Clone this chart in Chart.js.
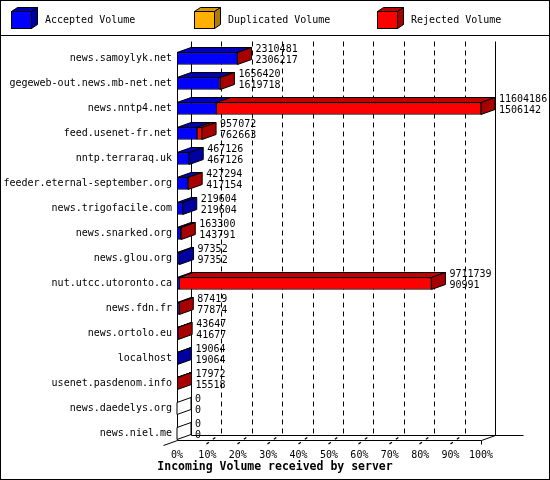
<!DOCTYPE html>
<html>
<head>
<meta charset="utf-8">
<title>Incoming Volume received by server</title>
<script src="https://cdn.jsdelivr.net/npm/chart.js@4.4.1/dist/chart.umd.min.js"></script>
<style>
  html, body { margin: 0; padding: 0; background: #fff; }
  canvas { display: block; }
</style>
</head>
<body>
<canvas id="volumeChart" width="550" height="480"></canvas>
<script>
// --- Daten ---
const servers = [
  'news.samoylyk.net', 'gegeweb-out.news.mb-net.net', 'news.nntp4.net', 'feed.usenet-fr.net',
  'nntp.terraraq.uk', 'feeder.eternal-september.org', 'news.trigofacile.com', 'news.snarked.org',
  'news.glou.org', 'nut.utcc.utoronto.ca', 'news.fdn.fr', 'news.ortolo.eu',
  'localhost', 'usenet.pasdenom.info', 'news.daedelys.org', 'news.niel.me'
];
const totalVolume = [2310481, 1656420, 11604186, 957072, 467126, 427294, 219604, 163300,
                     97352, 9711739, 87419, 43647, 19064, 17972, 0, 0];
const acceptedVolume = [2306217, 1619718, 1506142, 762663, 467126, 417154, 219604, 143791,
                        97352, 90991, 77874, 41677, 19064, 15518, 0, 0];
const duplicatedVolume = [0, 0, 0, 0, 0, 0, 0, 0, 0, 0, 0, 0, 0, 0, 0, 0];
// abgelehnt = Gesamt - angenommen
const rejectedVolume = totalVolume.map((t, i) => t - acceptedVolume[i]);
const percentTicks = [0, 10, 20, 30, 40, 50, 60, 70, 80, 90, 100];
const maxVolume = Math.max(...totalVolume);
const axisTitle = 'Incoming Volume received by server';

const MONO = "'DejaVu Sans Mono', monospace";
const DX = 14, DY = 5; // 3D-Tiefe

function line(ctx, x1, y1, x2, y2) {
    ctx.beginPath();
    ctx.moveTo(x1, y1);
    ctx.lineTo(x2, y2);
    ctx.stroke();
}

function poly(ctx, pts, fill) {
    ctx.beginPath();
    ctx.moveTo(pts[0][0], pts[0][1]);
    for (let k = 1; k < pts.length; k++) ctx.lineTo(pts[k][0], pts[k][1]);
    ctx.closePath();
    ctx.fillStyle = fill;
    ctx.fill();
    ctx.stroke();
}

// --- 3D Plugin: Rückwand, Boden, Seitenflächen, Werte, Legende ---
const bar3d = {
    id: 'bar3d',
    beforeDraw(chart) {
        const ctx = chart.ctx;
        ctx.save();
        ctx.fillStyle = '#fff';
        ctx.fillRect(0, 0, chart.width, chart.height);
        ctx.restore();
    },
    beforeDatasetsDraw(chart) {
        const { ctx, scales: { x, y } } = chart;
        const xAt = v => x.getPixelForValue(v);
        const firstC = y.getPixelForValue(0);
        const lastC = y.getPixelForValue(servers.length - 1);
        const wallTop = Math.round(firstC - 17.5) + 0.5;
        const floorFront = Math.round(lastC + 6) + 0.5;
        const floorBack = floorFront - DY;
        const x0 = Math.round(xAt(0)) + 0.5;
        const x100 = Math.round(xAt(maxVolume)) + 0.5;

        ctx.save();
        ctx.strokeStyle = '#000';
        ctx.lineWidth = 1;

        // Rückwand-Gitter
        percentTicks.forEach(p => {
            const xb = Math.round(xAt(p / 100 * maxVolume) + DX) + 0.5;
            ctx.setLineDash(p === 0 || p === 100 ? [] : [5, 4]);
            line(ctx, xb, wallTop, xb, floorBack);
        });
        ctx.setLineDash([]);

        // Boden
        line(ctx, x0 + DX, floorBack, x100 + DX + 28, floorBack);
        line(ctx, x0, floorFront, x100, floorFront);
        line(ctx, x100, floorFront, x100 + DX, floorBack);
        line(ctx, x0, floorFront, x0 - DX, floorFront + DY);
        // vordere Achse
        line(ctx, x0, Math.round(firstC - 6) + 0.5, x0, floorFront);

        // Bodenmarken
        percentTicks.forEach(p => {
            const xf = Math.round(xAt(p / 100 * maxVolume)) + 0.5;
            if (p === 0) return;
            if (p === 100) {
                line(ctx, xf, floorFront, xf, floorFront + 4);
                return;
            }
            ctx.setLineDash([3, 5]);
            ctx.lineWidth = 1.3;
            line(ctx, xf - 1, floorFront + 3.5, xf + 9, floorBack + 1);
            ctx.lineWidth = 1;
            ctx.setLineDash([]);
        });
        ctx.restore();
    },
    afterDatasetsDraw(chart) {
        const { ctx, scales: { x } } = chart;
        const metas = chart.data.datasets.map((d, k) => chart.getDatasetMeta(k));
        ctx.save();
        ctx.strokeStyle = '#000';
        ctx.lineWidth = 1;

        servers.forEach((name, i) => {
            let xEnd = x.getPixelForValue(0);
            let sideColor = '#fff';
            let yc = 0, h = 12;
            metas.forEach((meta, k) => {
                const el = meta.data[i];
                const p = el.getProps(['x', 'y', 'base', 'height'], true);
                yc = p.y; h = p.height;
                const top = p.y - p.height / 2;
                const ds = chart.data.datasets[k];
                if (ds.data[i] > 0) {
                    poly(ctx, [[p.base, top], [p.x, top], [p.x + DX, top - DY], [p.base + DX, top - DY]], ds.topColor);
                    sideColor = ds.sideColor;
                    xEnd = Math.max(xEnd, p.x);
                }
            });
            const top = yc - h / 2, bot = yc + h / 2;
            poly(ctx, [[xEnd, top], [xEnd + DX, top - DY], [xEnd + DX, bot - DY], [xEnd, bot]], sideColor);

            // Werte
            ctx.fillStyle = '#000';
            ctx.font = '10px ' + MONO;
            ctx.textAlign = 'left';
            ctx.textBaseline = 'middle';
            ctx.fillText(String(totalVolume[i]), xEnd + DX + 4, yc - 9.5);
            ctx.fillText(String(acceptedVolume[i]), xEnd + DX + 4, yc + 2);
        });
        ctx.restore();
    },
    afterDraw(chart) {
        const ctx = chart.ctx;
        ctx.save();
        ctx.strokeStyle = '#000';
        ctx.lineWidth = 1;
        // Legende
        chart.data.datasets.forEach((ds, k) => {
            const lx = 11 + 183 * k, ly = 11, w = 20, hh = 17, d = 6, e = 4;
            ctx.fillStyle = ds.backgroundColor;
            ctx.fillRect(lx, ly, w, hh);
            ctx.strokeRect(lx + 0.5, ly + 0.5, w, hh);
            poly(ctx, [[lx + 0.5, ly + 0.5], [lx + w + 0.5, ly + 0.5], [lx + w + d + 0.5, ly - e + 0.5], [lx + d + 0.5, ly - e + 0.5]], ds.topColor);
            poly(ctx, [[lx + w + 0.5, ly + 0.5], [lx + w + d + 0.5, ly - e + 0.5], [lx + w + d + 0.5, ly + hh - e + 0.5], [lx + w + 0.5, ly + hh + 0.5]], ds.sideColor);
            ctx.fillStyle = '#000';
            ctx.font = '10px ' + MONO;
            ctx.textAlign = 'left';
            ctx.textBaseline = 'middle';
            ctx.fillText(ds.label, lx + 34, 20);
        });
        // Achsentitel, mittig über die ganze Breite
        ctx.font = 'bold 11.5px ' + MONO;
        ctx.textAlign = 'center';
        ctx.textBaseline = 'middle';
        ctx.fillText(axisTitle, chart.width / 2, 467);

        line(ctx, 0, 35.5, chart.width, 35.5);
        ctx.strokeRect(0.5, 0.5, chart.width - 1, chart.height - 1);
        ctx.restore();
    }
};

const barStyle = { barThickness: 12, borderWidth: 1, borderColor: '#000', borderSkipped: false };

new Chart(document.getElementById('volumeChart'), {
    type: 'bar',
    data: {
        labels: servers,
        datasets: [
            { label: 'Accepted Volume', data: acceptedVolume, backgroundColor: '#0000ff', topColor: '#0000b8', sideColor: '#0000a0', ...barStyle },
            { label: 'Duplicated Volume', data: duplicatedVolume, backgroundColor: '#ffb000', topColor: '#d89400', sideColor: '#b07c00', ...barStyle },
            { label: 'Rejected Volume', data: rejectedVolume, backgroundColor: '#ff0000', topColor: '#c00000', sideColor: '#a80000', ...barStyle }
        ]
    },
    options: {
        indexAxis: 'y',
        responsive: false,
        devicePixelRatio: 1,
        animation: false,
        layout: { padding: { top: 46, right: 69, left: 0, bottom: 0 } },
        plugins: { legend: { display: false }, tooltip: { enabled: false } },
        scales: {
            x: {
                stacked: true,
                min: 0,
                max: maxVolume,
                grid: { display: false, drawTicks: false },
                border: { display: false },
                afterBuildTicks: s => { s.ticks = percentTicks.map(p => ({ value: p / 100 * maxVolume })); },
                afterFit: s => { s.height = 34; },
                ticks: {
                    padding: 3, color: '#000', maxRotation: 0, autoSkip: false,
                    font: { family: MONO, size: 10 },
                    callback: (v, idx) => percentTicks[idx] + '%'
                }
            },
            y: {
                stacked: true,
                grid: { display: false, drawTicks: false },
                border: { display: false },
                afterFit: s => { s.width = 177; },
                ticks: { padding: 5, color: '#000', autoSkip: false, font: { family: MONO, size: 10 } }
            }
        }
    },
    plugins: [bar3d]
});
</script>
</body>
</html>
